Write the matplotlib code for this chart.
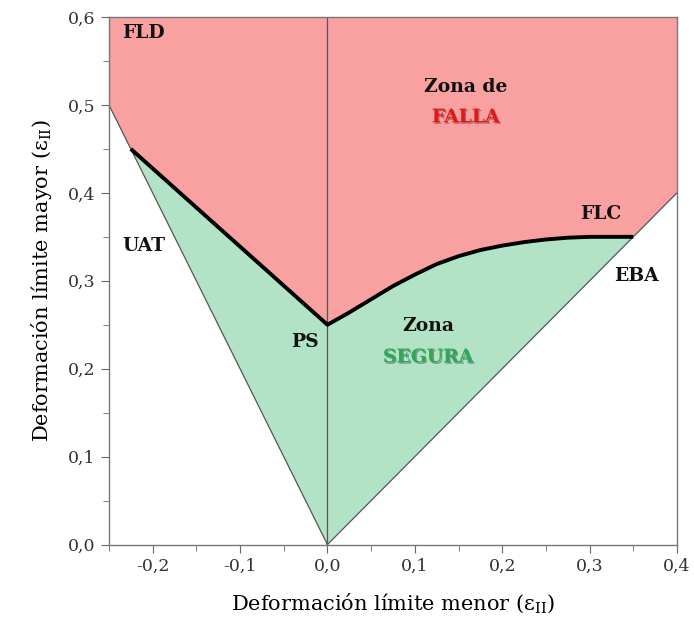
import matplotlib.pyplot as plt
import matplotlib.patheffects as pe
from matplotlib.ticker import MultipleLocator, FuncFormatter

plt.rcParams['font.family'] = ['DejaVu Serif']
plt.rcParams['mathtext.fontset'] = 'dejavuserif'

# curva limite de conformado (FLC)
flc_x = [-0.225, 0.0, 0.025, 0.05, 0.075, 0.1, 0.125, 0.15, 0.175, 0.2,
         0.225, 0.25, 0.275, 0.3, 0.325, 0.35]
flc_y = [0.45, 0.25, 0.264, 0.279, 0.294, 0.307, 0.319, 0.328, 0.335, 0.340,
         0.344, 0.347, 0.349, 0.350, 0.350, 0.350]

# lineas de referencia
uat_x = [-0.25, 0.0]
uat_y = [0.5, 0.0]
eba_x = [0.0, 0.4]
eba_y = [0.0, 0.4]

x_min, x_max = -0.25, 0.4
y_min, y_max = 0.0, 0.6

red = '#f9a0a0'
green = '#b3e3c6'
edge = '#555555'

fig = plt.figure(figsize=(6.94, 6.31), dpi=100)
ax = fig.add_axes([0.157, 0.137, 0.8185, 0.836])

# zona de falla
fx = [x_min, x_min] + flc_x + [x_max, x_max]
fy = [y_max, 0.5] + flc_y + [0.4, y_max]
ax.fill(fx, fy, color=red, lw=0)

# zona segura
sx = [0.0] + flc_x + [0.0]
sy = [0.0] + flc_y + [0.0]
ax.fill(sx, sy, color=green, lw=0)

ax.plot(uat_x, uat_y, color=edge, lw=0.9)
ax.plot(eba_x, eba_y, color=edge, lw=0.9)
ax.plot([0, 0], [y_min, y_max], color=edge, lw=0.9)
ax.plot(flc_x, flc_y, color='black', lw=2.8, solid_capstyle='butt', solid_joinstyle='round')

ax.set_xlim(x_min, x_max)
ax.set_ylim(y_min, y_max)
ax.xaxis.set_major_locator(MultipleLocator(0.1))
ax.xaxis.set_minor_locator(MultipleLocator(0.05))
ax.yaxis.set_major_locator(MultipleLocator(0.1))
ax.yaxis.set_minor_locator(MultipleLocator(0.05))
fmt = FuncFormatter(lambda v, p: f'{v:.1f}'.replace('.', ',').replace('-0,0', '0,0'))
ax.xaxis.set_major_formatter(fmt)
ax.yaxis.set_major_formatter(fmt)
ax.tick_params(which='both', direction='out', color='#666666', labelsize=12.5,
               labelcolor='#333333')
ax.tick_params(which='major', length=6)
ax.tick_params(which='minor', length=4)
for s in ax.spines.values():
    s.set_color('#777777')
    s.set_linewidth(1.0)

ax.set_xlabel('Deformación límite menor (ε$_{\\mathregular{II}}$)', fontsize=15, labelpad=12)
ax.set_ylabel('Deformación límite mayor (ε$_{\\mathregular{II}}$)', fontsize=15, labelpad=10)

bold = dict(fontsize=13.5, fontweight='bold', ha='center', va='center', color='#111111')
shadow = [pe.withSimplePatchShadow(offset=(1, -1), alpha=0.4)]
ax.text(-0.21, 0.582, 'FLD', **bold)
ax.text(0.158, 0.52, 'Zona de', **bold)
ax.text(0.158, 0.486, 'FALLA', fontsize=13.5, fontweight='bold', ha='center', va='center',
        color='#e01818', path_effects=shadow)
ax.text(0.313, 0.376, 'FLC', **bold)
ax.text(0.354, 0.306, 'EBA', **bold)
ax.text(-0.21, 0.34, 'UAT', **bold)
ax.text(-0.026, 0.23, 'PS', **bold)
ax.text(0.115, 0.249, 'Zona', **bold)
ax.text(0.115, 0.213, 'SEGURA', fontsize=13.5, fontweight='bold', ha='center', va='center',
        color='#2fa65a', path_effects=shadow)

fig.savefig('out.png', dpi=100)
